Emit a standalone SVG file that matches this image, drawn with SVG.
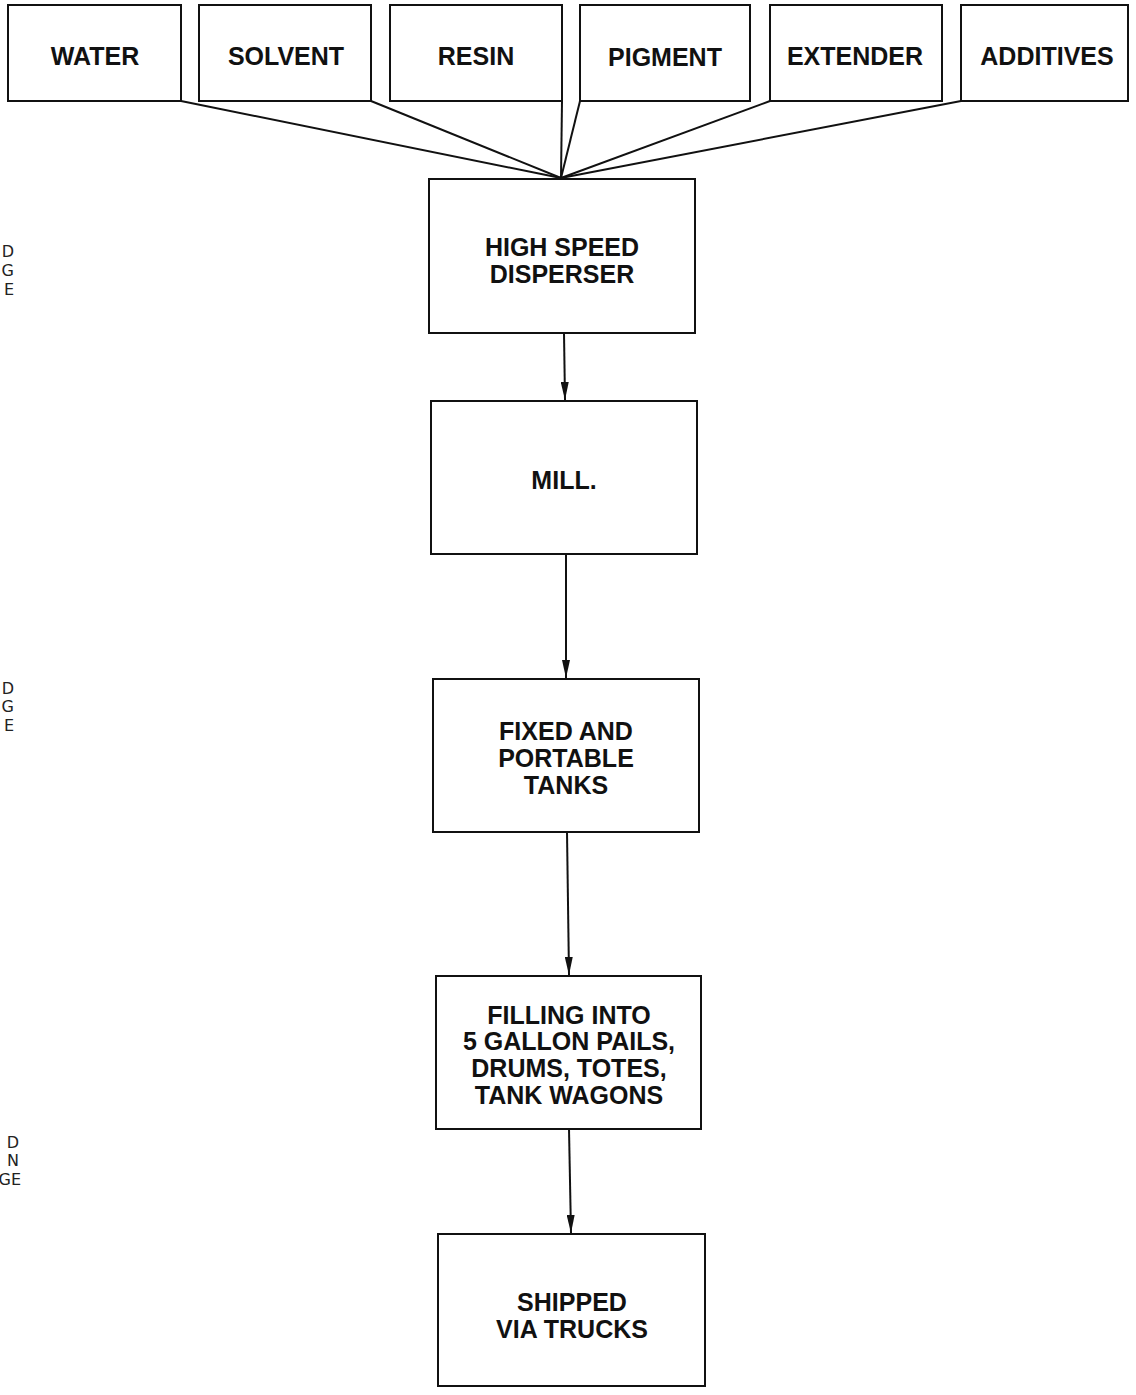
<svg xmlns="http://www.w3.org/2000/svg" width="1136" height="1395" viewBox="0 0 1136 1395">
<style>
.box{fill:#fff;stroke:#111;stroke-width:2}
.lbl{font-family:"Liberation Sans",Arial,sans-serif;font-weight:bold;font-size:25px;fill:#111;text-anchor:middle}
.edge{font-family:"DejaVu Sans","Liberation Sans",sans-serif;font-size:16px;fill:#222;text-anchor:end}
.conn{stroke:#111;stroke-width:2;fill:none}
</style>
<defs>
<marker id="ah" markerWidth="18" markerHeight="8" refX="18" refY="4" orient="auto" markerUnits="userSpaceOnUse" viewBox="0 0 18 8">
<path d="M0,0 L18,4 L0,8 Z" fill="#111"/>
</marker>
</defs>
<rect width="1136" height="1395" fill="#fff"/>
<g id="edge-text">
<text class="edge" x="14" y="257">D</text>
<text class="edge" x="14" y="276">G</text>
<text class="edge" x="14" y="295">E</text>
<text class="edge" x="14" y="694">D</text>
<text class="edge" x="14" y="712">G</text>
<text class="edge" x="14" y="731">E</text>
<text class="edge" x="19" y="1148">D</text>
<text class="edge" x="19" y="1166">N</text>
<text class="edge" x="21" y="1185">GE</text>
</g>
<g id="connectors">
<line class="conn" x1="181" y1="101" x2="561" y2="178"/>
<line class="conn" x1="371" y1="101" x2="561" y2="178"/>
<line class="conn" x1="562" y1="101" x2="561" y2="178"/>
<line class="conn" x1="580" y1="101" x2="561" y2="178"/>
<line class="conn" x1="770" y1="101" x2="561" y2="178"/>
<line class="conn" x1="961" y1="101" x2="561" y2="178"/>
<line class="conn" x1="564" y1="333" x2="565" y2="400" marker-end="url(#ah)"/>
<line class="conn" x1="566" y1="554" x2="566" y2="678" marker-end="url(#ah)"/>
<line class="conn" x1="567" y1="832" x2="569" y2="975" marker-end="url(#ah)"/>
<line class="conn" x1="569" y1="1129" x2="571" y2="1233" marker-end="url(#ah)"/>
</g>
<g id="water"><rect class="box" x="8" y="5" width="173" height="96"/><text class="lbl" x="95" y="65">WATER</text></g>
<g id="solvent"><rect class="box" x="199" y="5" width="172" height="96"/><text class="lbl" x="286" y="65">SOLVENT</text></g>
<g id="resin"><rect class="box" x="390" y="5" width="172" height="96"/><text class="lbl" x="476" y="65">RESIN</text></g>
<g id="pigment"><rect class="box" x="580" y="5" width="170" height="96"/><text class="lbl" x="665" y="66">PIGMENT</text></g>
<g id="extender"><rect class="box" x="770" y="5" width="172" height="96"/><text class="lbl" x="855" y="65">EXTENDER</text></g>
<g id="additives"><rect class="box" x="961" y="5" width="167" height="96"/><text class="lbl" x="1047" y="65">ADDITIVES</text></g>
<g id="disperser"><rect class="box" x="429" y="179" width="266" height="154"/><text class="lbl" x="562" y="256">HIGH SPEED</text><text class="lbl" x="562" y="283">DISPERSER</text></g>
<g id="mill"><rect class="box" x="431" y="401" width="266" height="153"/><text class="lbl" x="564" y="489">MILL.</text></g>
<g id="tanks"><rect class="box" x="433" y="679" width="266" height="153"/><text class="lbl" x="566" y="740">FIXED AND</text><text class="lbl" x="566" y="767">PORTABLE</text><text class="lbl" x="566" y="794">TANKS</text></g>
<g id="filling"><rect class="box" x="436" y="976" width="265" height="153"/><text class="lbl" x="569" y="1024">FILLING INTO</text><text class="lbl" x="569" y="1050">5 GALLON PAILS,</text><text class="lbl" x="569" y="1077">DRUMS, TOTES,</text><text class="lbl" x="569" y="1104">TANK WAGONS</text></g>
<g id="shipped"><rect class="box" x="438" y="1234" width="267" height="152"/><text class="lbl" x="572" y="1311">SHIPPED</text><text class="lbl" x="572" y="1338">VIA TRUCKS</text></g>
</svg>
